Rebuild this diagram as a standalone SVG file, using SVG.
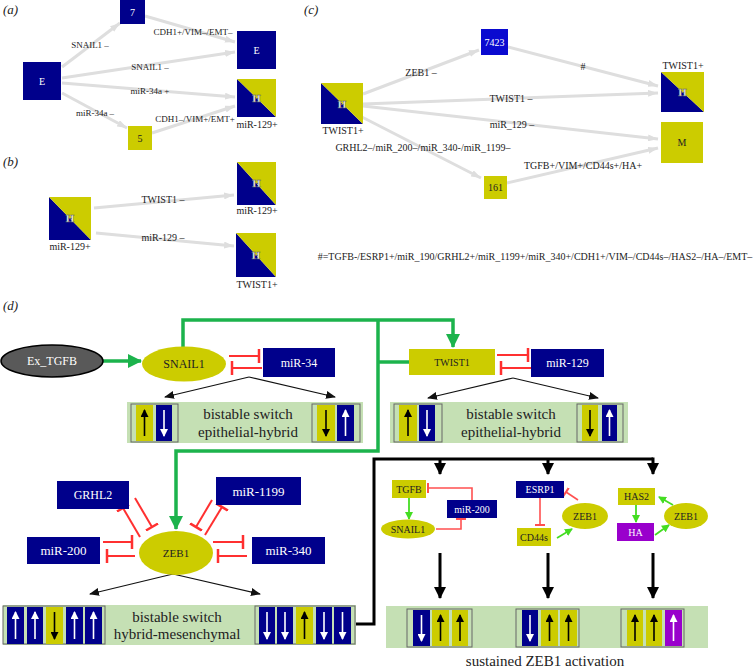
<svg xmlns="http://www.w3.org/2000/svg" width="756" height="670" viewBox="0 0 756 670">
<style>
text{font-family:"Liberation Serif","Times New Roman",serif;}
.pl{font-size:13px;font-style:italic;fill:#222}
.el{font-size:9px;fill:#222;text-anchor:middle}
.el10{font-size:10px;fill:#222;text-anchor:middle}
.nl{font-size:10px;fill:#fff;text-anchor:middle}
.nd{font-size:10px;fill:#222;text-anchor:middle}
.hl{font-size:11px;fill:#fff;stroke:#666;stroke-width:0.5;text-anchor:middle;font-weight:bold}
.ge{stroke:#dedede;stroke-width:3;fill:none;marker-end:url(#ga)}
.db{fill:#00008b}
.yl{fill:#cccc00}
.gn{stroke:#1cb34c;stroke-width:3.5;fill:none}
.rd{stroke:#ff3030;stroke-width:2;fill:none;marker-end:url(#tb)}
.rds{stroke:#ff5050;stroke-width:1.6;fill:none;marker-end:url(#tbs)}
.bk{stroke:#111;stroke-width:1.2;fill:none;marker-end:url(#bk)}
.bb{stroke:#000;stroke-width:3;fill:none}
.bba{stroke:#000;stroke-width:3;fill:none;marker-end:url(#bkb)}
.lg{stroke:#44dd22;stroke-width:1.8;fill:none;marker-end:url(#lg)}
.sw{fill:#c5e0b4}
.mb{fill:#c5e0b4;stroke:#666;stroke-width:1}
.wa{stroke:#fff;stroke-width:1.6;marker-end:url(#wa)}
.ba{stroke:#000;stroke-width:1.6;marker-end:url(#ba)}
.big{font-size:15px;fill:#222;text-anchor:middle}
.d12w{font-size:12px;fill:#fff;text-anchor:middle}
.d13w{font-size:13px;fill:#fff;text-anchor:middle}
.d12k{font-size:12px;fill:#222;text-anchor:middle}
.s10w{font-size:10px;fill:#fff;text-anchor:middle}
.s10k{font-size:10px;fill:#222;text-anchor:middle}
</style>
<defs>
<marker id="ga" markerUnits="userSpaceOnUse" markerWidth="10" markerHeight="7" refX="10" refY="3.5" orient="auto"><path d="M0,0 L10,3.5 L0,7 z" fill="#dedede"/></marker>
<marker id="gr" markerUnits="userSpaceOnUse" markerWidth="14" markerHeight="14" refX="13" refY="7" orient="auto"><path d="M0,0 L14,7 L0,14 z" fill="#1cb34c"/></marker>
<marker id="bk" markerUnits="userSpaceOnUse" markerWidth="10" markerHeight="8" refX="9" refY="4" orient="auto"><path d="M0,0 L10,4 L0,8 z" fill="#111"/></marker>
<marker id="bkb" markerUnits="userSpaceOnUse" markerWidth="12" markerHeight="12" refX="11" refY="6" orient="auto"><path d="M0,0 L12,6 L0,12 z" fill="#000"/></marker>
<marker id="lg" markerUnits="userSpaceOnUse" markerWidth="8" markerHeight="8" refX="7" refY="4" orient="auto"><path d="M0,0 L8,4 L0,8 z" fill="#44dd22"/></marker>
<marker id="tb" markerUnits="userSpaceOnUse" markerWidth="4" markerHeight="14" refX="2" refY="7" orient="auto"><path d="M2,0 L2,14" stroke="#ff3030" stroke-width="2.5"/></marker>
<marker id="tbs" markerUnits="userSpaceOnUse" markerWidth="4" markerHeight="10" refX="2" refY="5" orient="auto"><path d="M2,0 L2,10" stroke="#ff5050" stroke-width="2"/></marker>
<marker id="wa" markerUnits="userSpaceOnUse" markerWidth="8" markerHeight="8" refX="7" refY="4" orient="auto"><path d="M0,0 L8,4 L0,8 z" fill="#fff"/></marker>
<marker id="ba" markerUnits="userSpaceOnUse" markerWidth="8" markerHeight="8" refX="7" refY="4" orient="auto"><path d="M0,0 L8,4 L0,8 z" fill="#000"/></marker>
</defs>
<rect width="756" height="670" fill="#fff"/>

<!-- Panel labels -->
<text class="pl" x="3" y="14">(a)</text>
<text class="pl" x="3" y="166">(b)</text>
<text class="pl" x="304" y="14">(c)</text>
<text class="pl" x="3" y="310">(d)</text>

<!-- Panel a/b/c connectors -->
<g id="edges-abc">
<line class="ge" x1="62" y1="67" x2="120" y2="23"/>
<line class="ge" x1="145" y1="16" x2="235" y2="42"/>
<line class="ge" x1="62" y1="78" x2="235" y2="52"/>
<line class="ge" x1="62" y1="83" x2="235" y2="97"/>
<line class="ge" x1="62" y1="93" x2="127" y2="128"/>
<line class="ge" x1="152" y1="133" x2="235" y2="106"/>
<line class="ge" x1="94" y1="208" x2="234" y2="195"/>
<line class="ge" x1="96" y1="233" x2="234" y2="246"/>
<line class="ge" x1="363" y1="94" x2="479" y2="50"/>
<line class="ge" x1="508" y1="47" x2="658" y2="86"/>
<line class="ge" x1="363" y1="104" x2="658" y2="93"/>
<line class="ge" x1="363" y1="106" x2="658" y2="139"/>
<line class="ge" x1="358" y1="115" x2="481" y2="178"/>
<line class="ge" x1="507" y1="183" x2="658" y2="148"/>
<text class="el" x="90" y="48">SNAIL1 –</text>
<text class="el" x="193" y="35">CDH1+/VIM–/EMT–</text>
<text class="el" x="150" y="70">SNAIL1 –</text>
<text class="el" x="150" y="94">miR-34a +</text>
<text class="el" x="95" y="116">miR-34a –</text>
<text class="el" x="195" y="122">CDH1–/VIM+/EMT+</text>
<text class="el10" x="163" y="203">TWIST1 –</text>
<text class="el10" x="163" y="241">miR-129 –</text>
<text class="el10" x="421" y="76">ZEB1 –</text>
<text class="el10" x="583" y="70">#</text>
<text class="el10" x="511" y="102">TWIST1 –</text>
<text class="el10" x="512" y="128">miR_129 –</text>
<text class="el10" x="423" y="151">GRHL2–/miR_200–/miR_340-/miR_1199–</text>
<text class="el10" x="583" y="169">TGFB+/VIM+/CD44s+/HA+</text>
<text class="el10" x="535" y="260">#=TGFB-/ESRP1+/miR_190/GRHL2+/miR_1199+/miR_340+/CDH1+/VIM–/CD44s–/HAS2–/HA–/EMT–</text>
</g>

<!-- Panel a nodes -->
<g id="a-E"><rect class="db" x="23" y="62" width="38" height="38"/><text class="nl" x="42" y="85">E</text></g>
<g id="a-7"><rect class="db" x="120" y="0" width="25" height="24"/><text class="nl" x="132.5" y="16">7</text></g>
<g id="a-Eright"><rect class="db" x="237" y="31" width="39" height="38"/><text class="nl" x="256.5" y="54">E</text></g>
<g id="a-H"><polygon class="db" points="237,79 237,117 276,117"/><polygon class="yl" points="237,79 276,79 276,117"/><text class="hl" x="256.5" y="102">H</text><text class="el10" x="257" y="128">miR-129+</text></g>
<g id="a-5"><rect class="yl" x="128" y="126" width="24" height="24"/><text class="nd" x="140" y="142">5</text></g>

<!-- Panel b nodes -->
<g id="b-H"><polygon class="db" points="49,197 49,240 91,240"/><polygon class="yl" points="49,197 91,197 91,240"/><text class="hl" x="70" y="222">H</text><text class="el10" x="70" y="250">miR-129+</text></g>
<g id="b-Htop"><polygon class="db" points="237,162 237,205 276,205"/><polygon class="yl" points="237,162 276,162 276,205"/><text class="hl" x="256.5" y="187">H</text><text class="el10" x="257" y="214">miR-129+</text></g>
<g id="b-Hbot"><polygon class="db" points="236,233 236,277 276,277"/><polygon class="yl" points="236,233 276,233 276,277"/><text class="hl" x="256" y="259">H</text><text class="el10" x="257" y="288">TWIST1+</text></g>

<!-- Panel c nodes -->
<g id="c-H"><polygon class="db" points="321,83 321,124 363,124"/><polygon class="yl" points="321,83 363,83 363,124"/><text class="hl" x="342" y="108">H</text><text class="el10" x="343" y="134">TWIST1+</text></g>
<g id="c-7423"><rect x="481" y="29" width="27" height="26" fill="#0a0ad0"/><text class="nl" x="494.5" y="46">7423</text></g>
<g id="c-Hright"><polygon class="db" points="661,72 661,112 704,112"/><polygon class="yl" points="661,72 704,72 704,112"/><text class="hl" x="682.5" y="96">H</text><text class="el10" x="683" y="69">TWIST1+</text></g>
<g id="c-M"><rect class="yl" x="661" y="122" width="42" height="41"/><text class="nd" x="682" y="146">M</text></g>
<g id="c-161"><rect class="yl" x="484" y="176" width="23" height="23"/><text class="nd" x="495.5" y="191">161</text></g>

<!-- Panel d connectors -->
<g id="edges-d">
<line class="gn" x1="103" y1="361" x2="141" y2="361" marker-end="url(#gr)"/>
<polyline class="gn" points="183,347 183,320 453,320 453,347" marker-end="url(#gr)"/>
<polyline class="gn" points="378,320 378,451 176,451 176,529" marker-end="url(#gr)"/>
<line class="gn" x1="378" y1="362" x2="409" y2="362"/>
<line class="rd" x1="229" y1="356" x2="259" y2="356"/>
<line class="rd" x1="262" y1="368" x2="232" y2="368"/>
<line class="rd" x1="497" y1="355" x2="528" y2="355"/>
<line class="rd" x1="531" y1="368" x2="501" y2="368"/>
<line class="bk" x1="249" y1="377" x2="165" y2="397"/>
<line class="bk" x1="249" y1="377" x2="335" y2="397"/>
<line class="bk" x1="513" y1="378" x2="428" y2="398"/>
<line class="bk" x1="513" y1="378" x2="598" y2="398"/>
<line class="rd" x1="135" y1="498" x2="152" y2="527"/>
<line class="rd" x1="140" y1="537" x2="123" y2="508"/>
<line class="rd" x1="212" y1="500" x2="196" y2="527"/>
<line class="rd" x1="205" y1="535" x2="222" y2="507"/>
<line class="rd" x1="103" y1="542" x2="132" y2="542"/>
<line class="rd" x1="135" y1="556" x2="107" y2="556"/>
<line class="rd" x1="213" y1="542" x2="243" y2="542"/>
<line class="rd" x1="247" y1="556" x2="218" y2="556"/>
<line class="bk" x1="173" y1="574" x2="90" y2="594"/>
<line class="bk" x1="173" y1="574" x2="260" y2="594"/>
<polyline class="bb" points="355,624 374,624 374,459 653,459"/>
<line class="bba" x1="440" y1="459" x2="440" y2="474"/>
<line class="bba" x1="548" y1="459" x2="548" y2="474"/>
<line class="bba" x1="653" y1="457.5" x2="653" y2="474"/>
<line class="bba" x1="440" y1="553" x2="440" y2="598"/>
<line class="bba" x1="548" y1="553" x2="548" y2="598"/>
<line class="bba" x1="653" y1="553" x2="653" y2="598"/>
<line class="lg" x1="409" y1="498" x2="409" y2="519"/>
<polyline class="rds" points="472,500 472,488 428,488"/>
<polyline class="rds" points="436,529 461,529 461,519"/>
<line class="rds" x1="540" y1="498" x2="540" y2="525"/>
<line class="rds" x1="578" y1="500" x2="566" y2="492"/>
<line class="lg" x1="557" y1="538" x2="572" y2="529"/>
<line class="lg" x1="636" y1="505" x2="636" y2="522"/>
<line class="lg" x1="655" y1="535" x2="669" y2="525"/>
<line class="lg" x1="673" y1="505" x2="659" y2="497"/>
</g>

<!-- Panel d nodes -->
<g id="Ex_TGFB"><ellipse cx="52" cy="361" rx="51" ry="16" fill="#595959" stroke="#000" stroke-width="1.5"/><text class="d12w" x="52" y="365">Ex_TGFB</text></g>
<g id="SNAIL1"><ellipse cx="184" cy="364" rx="42" ry="17.5" fill="#cccc00"/><text class="d12k" x="184" y="368">SNAIL1</text></g>
<g id="miR-34"><rect class="db" x="263" y="348" width="72" height="29"/><text class="d12w" x="299" y="367">miR-34</text></g>
<g id="TWIST1"><rect class="yl" x="409" y="349" width="86" height="26"/><text class="s10k" x="452" y="366">TWIST1</text></g>
<g id="miR-129"><rect class="db" x="531" y="349" width="73" height="28"/><text class="d12w" x="567.5" y="367">miR-129</text></g>

<g id="switch-snail">
<rect class="sw" x="127" y="402" width="236" height="41"/>
<rect class="mb" x="131" y="404" width="47" height="38"/>
<rect class="yl" x="136" y="405" width="17" height="36"/><rect class="db" x="156" y="405" width="16" height="36"/>
<line class="ba" x1="144.5" y1="436" x2="144.5" y2="410"/><line class="wa" x1="164" y1="410" x2="164" y2="436"/>
<rect class="mb" x="312" y="404" width="48" height="38"/>
<rect class="yl" x="317" y="405" width="18" height="36"/><rect class="db" x="337" y="405" width="17" height="36"/>
<line class="ba" x1="326" y1="410" x2="326" y2="436"/><line class="wa" x1="345.5" y1="436" x2="345.5" y2="410"/>
<text class="big" x="248" y="419">bistable switch</text>
<text class="big" x="248" y="437">epithelial-hybrid</text>
</g>
<g id="switch-twist">
<rect class="sw" x="390" y="402" width="238" height="41"/>
<rect class="mb" x="394" y="404" width="48" height="38"/>
<rect class="yl" x="399" y="405" width="18" height="36"/><rect class="db" x="419" y="405" width="16" height="36"/>
<line class="ba" x1="408" y1="436" x2="408" y2="410"/><line class="wa" x1="427" y1="410" x2="427" y2="436"/>
<rect class="mb" x="577" y="404" width="46" height="38"/>
<rect class="yl" x="582" y="405" width="16" height="36"/><rect class="db" x="602" y="405" width="15" height="36"/>
<line class="ba" x1="590" y1="410" x2="590" y2="436"/><line class="wa" x1="609.5" y1="436" x2="609.5" y2="410"/>
<text class="big" x="511" y="419">bistable switch</text>
<text class="big" x="511" y="437">epithelial-hybrid</text>
</g>

<g id="GRHL2"><rect class="db" x="57" y="481" width="72" height="28"/><text class="d12w" x="93" y="499">GRHL2</text></g>
<g id="miR-1199"><rect class="db" x="216" y="477" width="85" height="28"/><text class="d13w" x="258.5" y="496">miR-1199</text></g>
<g id="miR-200"><rect class="db" x="27" y="537" width="73" height="27"/><text class="d13w" x="63.5" y="555">miR-200</text></g>
<g id="miR-340"><rect class="db" x="252" y="537" width="73" height="27"/><text class="d13w" x="288.5" y="555">miR-340</text></g>
<g id="ZEB1"><ellipse cx="176" cy="553" rx="37" ry="22" fill="#cccc00"/><text x="176" y="557" style="font-size:11px;fill:#222;text-anchor:middle">ZEB1</text></g>

<g id="switch-zeb">
<rect class="sw" x="3" y="605" width="353" height="40"/>
<rect class="mb" x="3" y="606" width="102" height="38"/>
<rect class="db" x="7" y="607" width="17" height="37"/><rect class="db" x="27" y="607" width="16" height="37"/><rect class="yl" x="46" y="607" width="17" height="37"/><rect class="db" x="66" y="607" width="17" height="37"/><rect class="db" x="85" y="607" width="17" height="37"/>
<line class="wa" x1="15.5" y1="639" x2="15.5" y2="612"/><line class="wa" x1="35" y1="639" x2="35" y2="612"/><line class="ba" x1="54.5" y1="612" x2="54.5" y2="639"/><line class="wa" x1="74.5" y1="639" x2="74.5" y2="612"/><line class="wa" x1="93.5" y1="639" x2="93.5" y2="612"/>
<rect class="mb" x="255" y="606" width="100" height="38"/>
<rect class="db" x="259" y="607" width="16" height="37"/><rect class="db" x="277" y="607" width="16" height="37"/><rect class="yl" x="296" y="607" width="17" height="37"/><rect class="db" x="316" y="607" width="16" height="37"/><rect class="db" x="334" y="607" width="17" height="37"/>
<line class="wa" x1="267" y1="612" x2="267" y2="639"/><line class="wa" x1="285" y1="612" x2="285" y2="639"/><line class="ba" x1="304.5" y1="639" x2="304.5" y2="612"/><line class="wa" x1="324" y1="612" x2="324" y2="639"/><line class="wa" x1="342.5" y1="612" x2="342.5" y2="639"/>
<text class="big" x="177" y="622">bistable switch</text>
<text class="big" x="177" y="639">hybrid-mesenchymal</text>
</g>

<g id="TGFB"><rect class="yl" x="392" y="480" width="34" height="18"/><text class="s10k" x="409" y="493">TGFB</text></g>
<g id="miR-200-s"><rect class="db" x="447" y="500" width="50" height="18"/><text class="s10w" x="472" y="513">miR-200</text></g>
<g id="SNAIL1-s"><ellipse cx="408" cy="529" rx="27" ry="9.5" fill="#cccc00"/><text class="s10k" x="408" y="533">SNAIL1</text></g>
<g id="ESRP1"><rect class="db" x="516" y="481" width="48" height="17"/><text class="s10w" x="540" y="493">ESRP1</text></g>
<g id="CD44s"><rect class="yl" x="517" y="528" width="34" height="18"/><text class="s10k" x="534" y="541">CD44s</text></g>
<g id="ZEB1-s1"><ellipse cx="585" cy="516" rx="23" ry="13" fill="#cccc00"/><text class="s10k" x="585" y="520">ZEB1</text></g>
<g id="HAS2"><rect class="yl" x="618" y="488" width="37" height="17"/><text class="s10k" x="636.5" y="500">HAS2</text></g>
<g id="HA"><rect x="617" y="523" width="37" height="18" fill="#9900cc"/><text class="s10w" x="635.5" y="536">HA</text></g>
<g id="ZEB1-s2"><ellipse cx="686" cy="516" rx="22" ry="13" fill="#cccc00"/><text class="s10k" x="686" y="520">ZEB1</text></g>

<g id="sustained">
<rect class="sw" x="386" y="606" width="322" height="42"/>
<rect class="mb" x="407" y="609" width="65" height="38"/>
<rect class="db" x="413" y="610" width="17" height="36"/><rect class="yl" x="432" y="610" width="17" height="36"/><rect class="yl" x="452" y="610" width="16" height="36"/>
<line class="wa" x1="421.5" y1="615" x2="421.5" y2="641"/><line class="ba" x1="440.5" y1="641" x2="440.5" y2="615"/><line class="ba" x1="460" y1="641" x2="460" y2="615"/>
<rect class="mb" x="516" y="609" width="63" height="38"/>
<rect class="db" x="522" y="610" width="16" height="36"/><rect class="yl" x="541" y="610" width="17" height="36"/><rect class="yl" x="560" y="610" width="17" height="36"/>
<line class="wa" x1="530" y1="615" x2="530" y2="641"/><line class="ba" x1="549.5" y1="641" x2="549.5" y2="615"/><line class="ba" x1="568.5" y1="641" x2="568.5" y2="615"/>
<rect class="mb" x="621" y="609" width="63" height="38"/>
<rect class="yl" x="627" y="610" width="16" height="36"/><rect class="yl" x="646" y="610" width="16" height="36"/><rect x="665" y="610" width="17" height="36" fill="#9900cc"/>
<line class="ba" x1="635" y1="641" x2="635" y2="615"/><line class="ba" x1="654" y1="641" x2="654" y2="615"/><line class="wa" x1="673.5" y1="641" x2="673.5" y2="615"/>
<text class="big" x="545" y="666">sustained ZEB1 activation</text>
</g>
</svg>
